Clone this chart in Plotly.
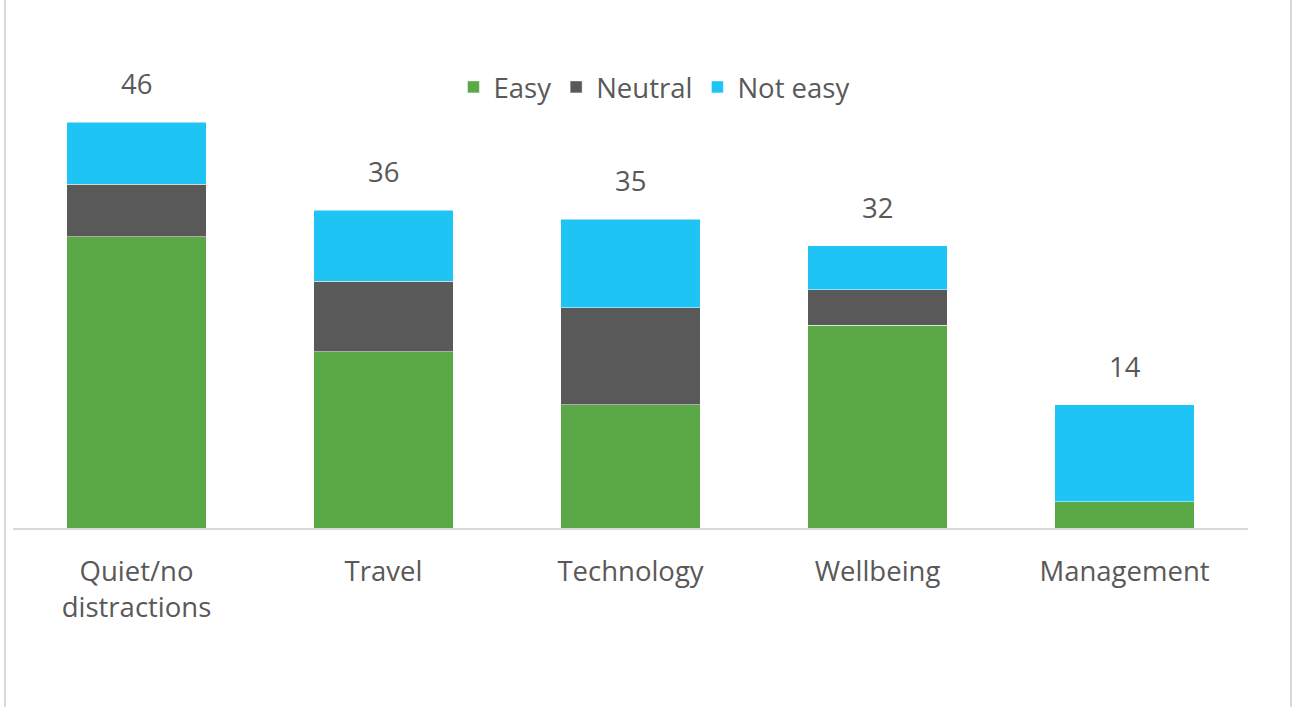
import plotly.graph_objects as go

categories = ["Quiet/no<br>distractions", "Travel", "Technology", "Wellbeing", "Management"]
easy = [33, 20, 14, 23, 3]
neutral = [6, 8, 11, 4, 0]
not_easy = [7, 8, 10, 5, 11]
totals = [46, 36, 35, 32, 14]

series = [
    ("Easy", easy, "#5BA846"),
    ("Neutral", neutral, "#595959"),
    ("Not easy", not_easy, "#1EC4F4"),
]

text_color = "#595959"
font_family = "'Open Sans', sans-serif"
fsize = 27.5

fig = go.Figure()
for name, vals, color in series:
    fig.add_trace(go.Bar(
        x=categories, y=vals, name=name,
        marker=dict(color=color, line=dict(color="white", width=0.5)),
        width=0.563,
    ))

for cat, tot in zip(categories, totals):
    fig.add_annotation(
        x=cat, y=tot, text=str(tot), showarrow=False,
        yanchor="bottom", yshift=18,
        font=dict(size=fsize, color=text_color, family=font_family),
    )

# light frame edges at left and right of the chart area
for xp in (-0.0065, 1.0348):
    fig.add_shape(type="line", xref="paper", yref="paper",
                  x0=xp, x1=xp, y0=-0.5, y1=1.3,
                  line=dict(color="#D9D9D9", width=2))

fig.update_layout(
    width=1292, height=707,
    barmode="stack",
    bargap=0.437,
    plot_bgcolor="white", paper_bgcolor="white",
    margin=dict(l=13, r=44, t=86.5, b=178.5),
    font=dict(family=font_family, size=fsize, color=text_color),
    legend=dict(
        orientation="h", x=0.519, xanchor="center", y=1.0, yanchor="middle",
        font=dict(size=fsize, color=text_color),
        traceorder="normal", itemclick=False,
    ),
    showlegend=True,
    xaxis=dict(
        showline=True, linecolor="#D9D9D9", linewidth=2,
        ticks="outside", ticklen=18, tickcolor="rgba(0,0,0,0)",
        tickfont=dict(size=fsize, color=text_color),
        showgrid=False,
    ),
    yaxis=dict(range=[0, 50], visible=False, showgrid=False),
)

fig.write_html("out.html")
